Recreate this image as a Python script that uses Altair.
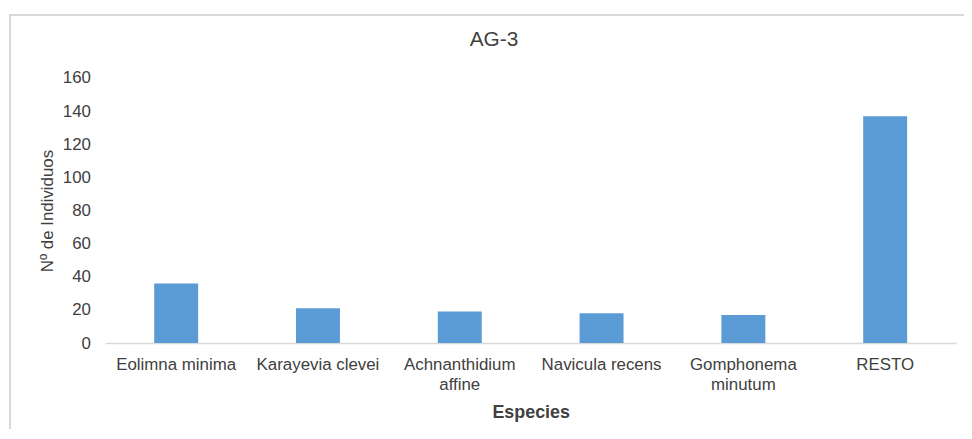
import altair as alt
import pandas as pd

species = ["Eolimna minima", "Karayevia clevei", "Achnanthidium affine",
           "Navicula recens", "Gomphonema minutum", "RESTO"]
counts = [36, 21, 19, 18, 17, 137]
y_ticks = [0, 20, 40, 60, 80, 100, 120, 140, 160]

df = pd.DataFrame({"Especies": species, "Individuos": counts})

W, H = 857, 267
TXT = "#404040"
FONT = "Liberation Sans"

bars = alt.Chart(df).mark_bar(color="#5B9BD5").encode(
    x=alt.X("Especies:N", sort=species,
            scale=alt.Scale(paddingInner=0.69, paddingOuter=0.345),
            axis=alt.Axis(title="Especies", labelAngle=0, ticks=False,
                          domainColor="#D9D9D9", domainWidth=1.5,
                          labelFontSize=17, labelColor=TXT, labelFont=FONT,
                          labelPadding=14, labelLineHeight=20,
                          labelExpr="length(datum.label) > 16 ? split(datum.label, ' ') : datum.label",
                          titleFontSize=18, titleFontWeight="bold", titleColor=TXT,
                          titleFont=FONT, titleX=W / 2, titleY=75,
                          titleBaseline="alphabetic", titleAlign="center")),
    y=alt.Y("Individuos:Q", scale=alt.Scale(domain=[0, 160], nice=False),
            axis=alt.Axis(title="Nº de Individuos", values=y_ticks, grid=False,
                          domain=False, ticks=False, labelFontSize=17,
                          labelColor=TXT, labelFont=FONT, labelPadding=15,
                          titleFontSize=17, titleFontWeight="normal", titleColor=TXT,
                          titleFont=FONT, titleX=-58, titleY=H / 2, titleAngle=-90,
                          titleAlign="center", titleBaseline="middle")),
)

top_line = alt.Chart(df).mark_rule(color="#D9D9D9", strokeWidth=2).encode(
    x=alt.value(-96), x2=alt.value(W + 20), y=alt.value(-63.5))
left_line = alt.Chart(df).mark_rule(color="#D9D9D9", strokeWidth=2).encode(
    x=alt.value(-96), y=alt.value(-64), y2=alt.value(H + 120))

chart = alt.layer(top_line, left_line, bars).properties(
    width=W, height=H,
    title=alt.TitleParams("AG-3", fontSize=21, font=FONT, color=TXT,
                          fontWeight="normal", anchor="middle", dx=-37,
                          baseline="alphabetic", offset=-53.5),
    autosize=alt.AutoSizeParams(type="none"),
    padding={"left": 98, "top": 69, "right": 8, "bottom": 85},
).configure_view(stroke=None)

chart.save("out.html", embed_options={"renderer": "svg", "actions": False})
